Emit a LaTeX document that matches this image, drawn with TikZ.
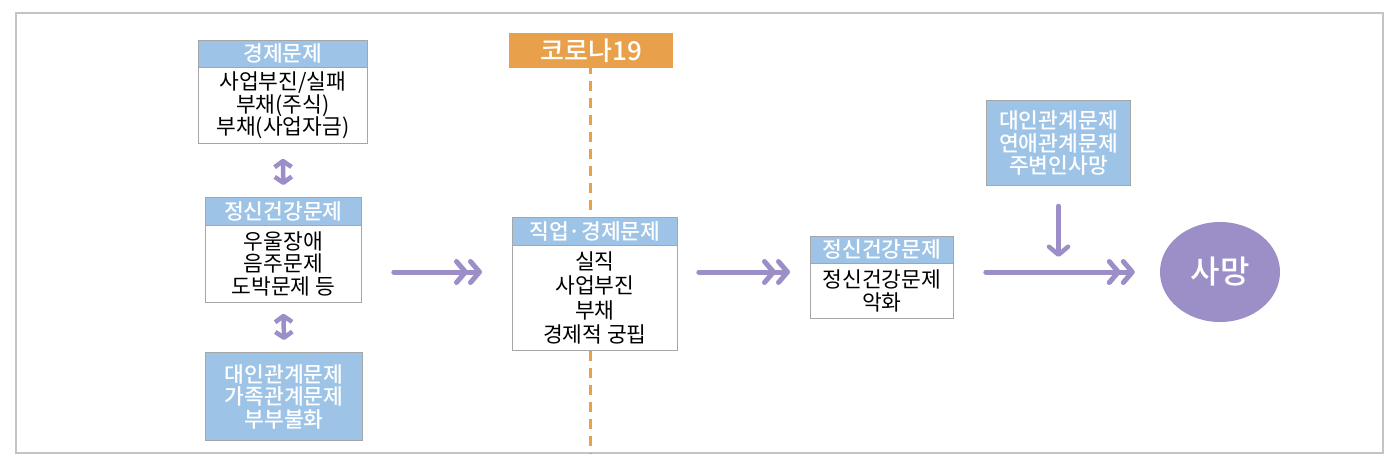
\documentclass[tikz,border=0pt]{standalone}
\usepackage{fontspec}
\setmainfont{Noto Sans CJK KR}
\IfFontExistsTF{Noto Sans CJK KR Medium}
  {\newfontfamily\medfont{Noto Sans CJK KR Medium}}
  {\newfontfamily\medfont[FakeBold=1.2]{Noto Sans CJK KR}}
\usetikzlibrary{arrows.meta,calc,positioning,shapes.geometric}
\definecolor{hblue}{HTML}{9DC3E6}
\definecolor{corange}{HTML}{E9A04B}
\definecolor{cpurple}{HTML}{9C8EC6}
\definecolor{bgray}{HTML}{A6A6A6}
\definecolor{fgray}{HTML}{C4C4C4}
\begin{document}
\begin{tikzpicture}[x=1pt,y=-1pt,
  hdr/.style={draw=bgray,line width=0.8,fill=hblue,text=white,anchor=north west,inner sep=0,align=center,
    font=\fontsize{21.5}{22}\selectfont\medfont},
  bdy/.style={draw=bgray,line width=0.8,fill=white,text=black,anchor=north west,inner sep=0,align=center,
    font=\fontsize{21.5}{22.5}\selectfont},
  bluebox/.style={draw=bgray,line width=1,fill=hblue,text=white,anchor=north west,inner sep=0,align=center,
    font=\fontsize{21.5}{22.5}\selectfont\medfont},
  dbl/.style={draw=cpurple,line width=5,line cap=round,
    -{Straight Barb[length=9,width=21,line cap=round,line join=round]Straight Barb[length=9,width=21,line cap=round,line join=round]}},
  sgl/.style={draw=cpurple,line width=4.5,line cap=round,
    -{Straight Barb[length=8,width=19,line cap=round,line join=round]}},
  updown/.style={draw=cpurple,line width=4.5,
    {Straight Barb[length=6,width=17,line join=round]}-{Straight Barb[length=6,width=17,line join=round]}},
  dashline/.style={draw=corange,line width=3,dash pattern=on 10 off 7}
]
\useasboundingbox (0,0) rectangle (1399,464);
\draw[fgray,line width=2] (16,13) rectangle (1383,453);

% box 1
\node[hdr,minimum width=169,minimum height=27] (b1h) at (198,40) {경제문제};
\node[bdy,minimum width=169,minimum height=76] (b1b) at (198,67) {사업부진/실패\\부채(주식)\\부채(사업자금)};
% box 2
\node[hdr,minimum width=156,minimum height=28] (b2h) at (205,197) {정신건강문제};
\node[bdy,minimum width=156,minimum height=77] (b2b) at (205,225) {우울장애\\음주문제\\도박문제 등};
% box 3
\node[bluebox,minimum width=157,minimum height=88] (b3) at (205,352) {대인관계문제\\가족관계문제\\부부불화};
% corona
\node[fill=corange,text=white,anchor=north west,inner sep=0,minimum width=164,minimum height=35,
  font=\fontsize{26}{27}\selectfont\medfont] (cor) at (509,33) {코로나19};
% box 4
\node[hdr,minimum width=165,minimum height=28] (b4h) at (512,217) {직업·경제문제};
\node[bdy,minimum width=165,minimum height=105,font=\fontsize{21.5}{24.5}\selectfont] (b4b) at (512,245) {실직\\사업부진\\부채\\경제적 궁핍};
% box 5
\node[hdr,minimum width=143,minimum height=27] (b5h) at (810,236) {정신건강문제};
\node[bdy,minimum width=143,minimum height=55] (b5b) at (810,263) {정신건강문제\\악화};
% box 6
\node[bluebox,minimum width=144,minimum height=85] (b6) at (986,100) {대인관계문제\\연애관계문제\\주변인사망};
% death
\node[ellipse,fill=cpurple,text=white,minimum width=120,minimum height=100,inner sep=0,
  font=\fontsize{32}{33}\selectfont\medfont] (death) at (1220,272) {사망};
\coordinate (fb) at (590,453);

% dashed timeline
\draw[dashline] ([yshift=4]cor.south -| 590,0) -- (b4h.north -| 590,0);
\draw[dashline] (b4b.south -| 590,0) -- (fb);

% vertical double arrows
\draw[updown] ($(b1b.south)+(0,15)$) -- ($(b2h.north)+(0,-12)$);
\draw[updown] ($(b2b.south)+(0,11)$) -- ($(b3.north)+(0,-12)$);

% horizontal arrows
\draw[dbl] ($(b2b.east |- death)+(32,0)$) -- ($(b4h.west |- death)+(-30,0)$);
\draw[dbl] ($(b4b.east |- death)+(21,0)$) -- ($(b5h.west |- death)+(-20,0)$);
\draw[dbl] ($(b5b.east |- death)+(32,0)$) -- ($(death.west)+(-25,0)$);
\draw[sgl] ($(b6.south)+(0,20)$) -- ($(b6.south |- death)+(0,-15)$);
\end{tikzpicture}
\end{document}
